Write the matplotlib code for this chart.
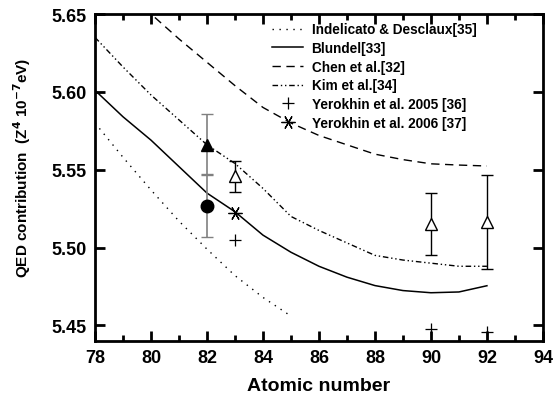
import numpy as np
import matplotlib.pyplot as plt
from matplotlib.ticker import MultipleLocator

plt.rcParams['font.family'] = ['Liberation Sans', 'DejaVu Sans']
plt.rcParams['font.weight'] = 'bold'

# theory curves
z = np.arange(78, 93)
zIndelicato = np.arange(78, 86)
indelicato = [5.580, 5.558, 5.537, 5.517, 5.499, 5.482, 5.468, 5.456]
blundel = [5.601, 5.584, 5.569, 5.552, 5.535, 5.523, 5.508, 5.497, 5.488,
           5.481, 5.4756, 5.4724, 5.471, 5.4715, 5.4755]
chen = [5.683, 5.666, 5.650, 5.634, 5.619, 5.604, 5.590, 5.580, 5.572,
        5.566, 5.560, 5.5565, 5.5538, 5.553, 5.5524]
kim = [5.635, 5.616, 5.598, 5.582, 5.566, 5.554, 5.538, 5.520, 5.511,
       5.503, 5.495, 5.492, 5.490, 5.488, 5.488]

# measurements
zFilledTri, filledTri, filledTriErr = [82], [5.566], [0.0195]
zCircle, circle, circleErr = [82], [5.527], [0.0205]
zOpenTri = [83, 90, 92]
openTri = [5.5457, 5.515, 5.5165]
openTriErr = [0.010, 0.020, 0.030]
zYer2005 = [83, 90, 92]
yer2005 = [5.5047, 5.448, 5.4455]
zYer2006 = [83]
yer2006 = [5.5224]

fig = plt.figure(figsize=(5.54, 4.06), dpi=100)
ax = fig.add_axes([0.1715, 0.1576, 0.8085, 0.8054])

ax.plot(zIndelicato, indelicato, color='black', lw=1.0, ls=(0, (1, 4)),
        label='Indelicato & Desclaux[35]')
ax.plot(z, blundel, color='black', lw=1.1, label='Blundel[33]')
ax.plot(z, chen, color='black', lw=1.0, ls=(0, (6, 4)), label='Chen et al.[32]')
ax.plot(z, kim, color='black', lw=1.0, ls=(0, (4, 2, 1, 2, 1, 2)),
        label='Kim et al.[34]')
ax.plot(zYer2005, yer2005, ls='none', marker='+', ms=8, mew=0.9, color='black',
        label='Yerokhin et al. 2005 [36]')
ax.plot(zYer2006, yer2006, ls='none', marker=(6, 2, 90), ms=10, mew=0.9,
        color='black', label='Yerokhin et al. 2006 [37]')

ax.errorbar(zFilledTri, filledTri, yerr=filledTriErr, fmt='^', color='black',
            ecolor='gray', ms=9, capsize=4, elinewidth=1.2, capthick=1.0)
ax.errorbar(zCircle, circle, yerr=circleErr, fmt='o', color='black',
            ecolor='gray', ms=9, capsize=4, elinewidth=1.2, capthick=1.0)
ax.errorbar(zOpenTri, openTri, yerr=openTriErr, fmt='^', mfc='white',
            mec='black', ecolor='black', ms=9, capsize=4, elinewidth=1.0,
            capthick=1.0)

ax.set_xlim(78, 94)
ax.set_ylim(5.44, 5.65)
ax.xaxis.set_major_locator(MultipleLocator(2))
ax.xaxis.set_minor_locator(MultipleLocator(1))
ax.yaxis.set_major_locator(MultipleLocator(0.05))
ax.yaxis.set_major_formatter(plt.FormatStrFormatter('%.2f'))
ax.tick_params(which='both', direction='in', top=True, right=True,
               labelsize=13, width=2)
ax.tick_params(which='major', length=7, pad=6)
ax.tick_params(which='minor', length=4)
for lab in ax.get_xticklabels() + ax.get_yticklabels():
    lab.set_fontweight('bold')
for s in ax.spines.values():
    s.set_linewidth(2)

ax.set_xlabel('Atomic number', fontsize=14, fontweight='bold', labelpad=8)
ax.set_ylabel(r'QED contribution  (Z$^{\mathbf{4}}$ 10$^{\mathbf{-7}}$eV)',
              fontsize=11, fontweight='bold')
ax.yaxis.set_label_coords(-0.138, 0.532)

ax.legend(loc='upper left', bbox_to_anchor=(0.376, 1.0), frameon=False,
          prop={'weight': 'bold', 'size': 9.8},
          handlelength=2.3, handletextpad=0.62, labelspacing=0.34,
          borderpad=0.62, borderaxespad=0)

fig.savefig('out.png', dpi=100)
